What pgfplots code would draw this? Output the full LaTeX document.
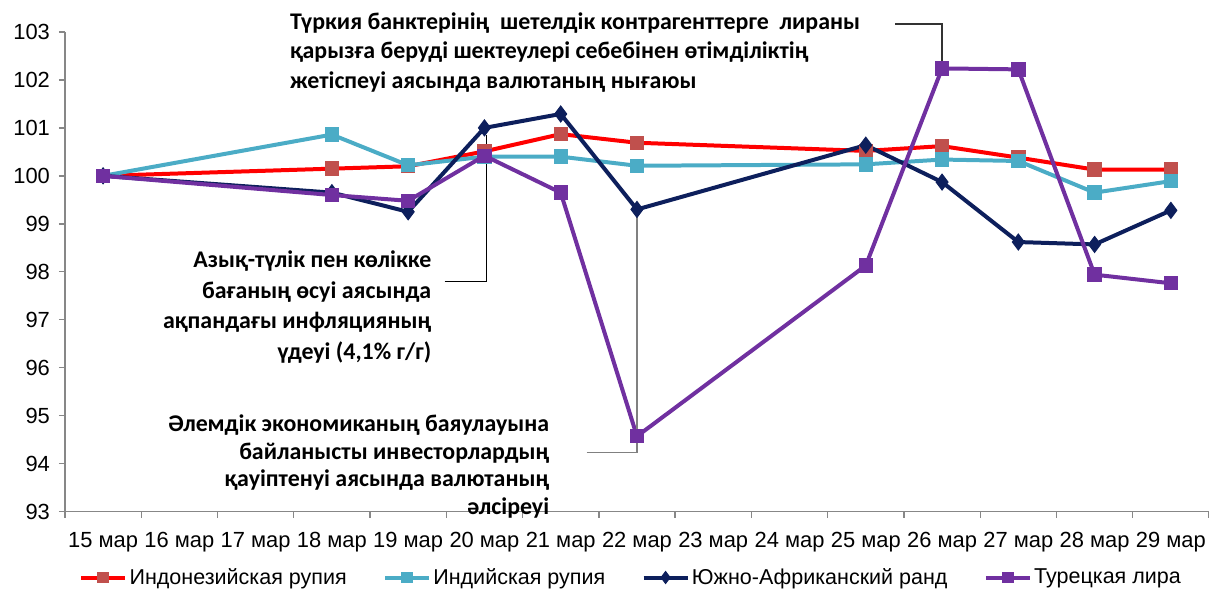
\documentclass[border=0pt]{standalone}
\usepackage{pgfplots}
\pgfplotsset{compat=1.18}
\usepackage{fontspec}
\setmainfont{Liberation Sans}
\newfontfamily\annfont{Carlito}
\definecolor{cRed}{HTML}{FF0000}
\definecolor{cRedM}{HTML}{C0504D}
\definecolor{cCyan}{HTML}{4BACC6}
\definecolor{cNavy}{HTML}{0D1F5C}
\definecolor{cPurple}{HTML}{7030A0}
\definecolor{cAxis}{HTML}{878787}
\pgfplotstableread{
x idr inr zar try
0 100.00 100.00 100.00 100.00
3 100.15 100.86 99.65 99.60
4 100.20 100.22 99.25 99.48
5 100.51 100.40 101.00 100.42
6 100.87 100.40 101.29 99.65
7 100.69 100.21 99.30 94.57
10 100.52 100.24 100.64 98.13
11 100.62 100.34 99.87 102.24
12 100.38 100.31 98.62 102.22
13 100.13 99.65 98.57 97.94
14 100.13 99.89 99.28 97.76
}\data
\begin{document}
\begin{tikzpicture}
\path[use as bounding box] (-32.5bp,-39bp) rectangle (572.5bp,256bp);
\begin{axis}[
  at={(0,0)}, anchor=south west,
  scale only axis, width=572.5bp, height=240bp,
  xmin=-0.5, xmax=14.5, ymin=93, ymax=103,
  clip=false,
  axis x line*=bottom, axis y line*=left,
  axis line style={cAxis, line width=0.7bp, -},
  xtick={0,...,14},
  xticklabels={15 мар,16 мар,17 мар,18 мар,19 мар,20 мар,21 мар,22 мар,23 мар,24 мар,25 мар,26 мар,27 мар,28 мар,29 мар},
  minor xtick={-0.5,0.5,...,14.5},
  ytick={93,...,103},
  tick align=outside,
  major tick length=3bp, minor tick length=3bp,
  x tick style={draw=none},
  minor x tick style={draw=cAxis, line width=0.7bp},
  y tick style={draw=cAxis, line width=0.7bp},
  tick label style={font=\fontsize{11}{13}\selectfont},
  /pgf/number format/assume math mode=true,
  xticklabel style={yshift=-4bp},
  yticklabel style={xshift=-1bp},
  legend columns=4,
  legend style={at={(0.495,-0.1375)}, anchor=center, draw=none, fill=none,
    font=\fontsize{10.8}{13}\selectfont, column sep=0pt,
    nodes={inner xsep=1.2bp, inner ysep=1bp}},
  legend image code/.code={%
    \draw[mark repeat=2, mark phase=2, /tikz/every mark/.append style={scale=0.75}] plot coordinates {(0bp,0bp) (11bp,0bp) (22bp,0bp)};},
]
\addplot[cRed, line width=2bp, mark=square*, mark size=2.6bp, mark options={fill=cRedM, draw=cRedM}] table[x=x,y=idr] {\data};
\addlegendentry{Индонезийская рупия\rule{17bp}{0pt}}
\addplot[cCyan, line width=2bp, mark=square*, mark size=2.6bp, mark options={fill=cCyan, draw=cCyan}] table[x=x,y=inr] {\data};
\addlegendentry{Индийская рупия\rule{17bp}{0pt}}
\addplot[cNavy, line width=2bp, mark=diamond*, mark size=4bp, mark options={fill=cNavy, draw=cNavy, line width=0.5bp}] table[x=x,y=zar] {\data};
\addlegendentry{Южно-Африканский ранд\rule{17bp}{0pt}}
\addplot[cPurple, line width=2bp, mark=square*, mark size=2.6bp, mark options={fill=cPurple, draw=cPurple}] table[x=x,y=try] {\data};
\addlegendentry{Турецкая лира}

% annotations
\draw[black!80, line width=0.6bp] (axis cs:10.387,103.167) -- (axis cs:11.0,103.167) -- (axis cs:11.0,102.33);
\draw[black, line width=0.6bp] (axis cs:4.478,97.79) -- (axis cs:5.03,97.79) -- (axis cs:5.03,100.85);
\draw[gray, line width=0.6bp] (axis cs:6.339,94.24) -- (axis cs:7.0,94.24) -- (axis cs:7.0,99.29);
\node[anchor=north west, inner sep=0pt, align=left, font=\annfont\bfseries\fontsize{12}{15}\selectfont]
  at (axis cs:2.447,103.417) {Түркия банктерінің\ \ шетелдік контрагенттерге\ \ лираны\\қарызға беруді шектеулері себебінен өтімділіктің\\жетіспеуі аясында валютаның нығаюы};
\node[anchor=north east, inner sep=0pt, align=right, font=\annfont\bfseries\fontsize{12}{15.5}\selectfont]
  at (axis cs:4.308,98.454) {Азық-түлік пен көлікке\\бағаның өсуі аясында\\ақпандағы инфляцияның\\үдеуі (4,1\% г/г)};
\node[anchor=north east, inner sep=0pt, align=right, font=\annfont\bfseries\fontsize{12}{14}\selectfont]
  at (axis cs:5.854,95.033) {Әлемдік экономиканың баяулауына\\байланысты инвесторлардың\\қауіптенуі аясында валютаның\\әлсіреуі};
\end{axis}
\end{tikzpicture}
\end{document}
